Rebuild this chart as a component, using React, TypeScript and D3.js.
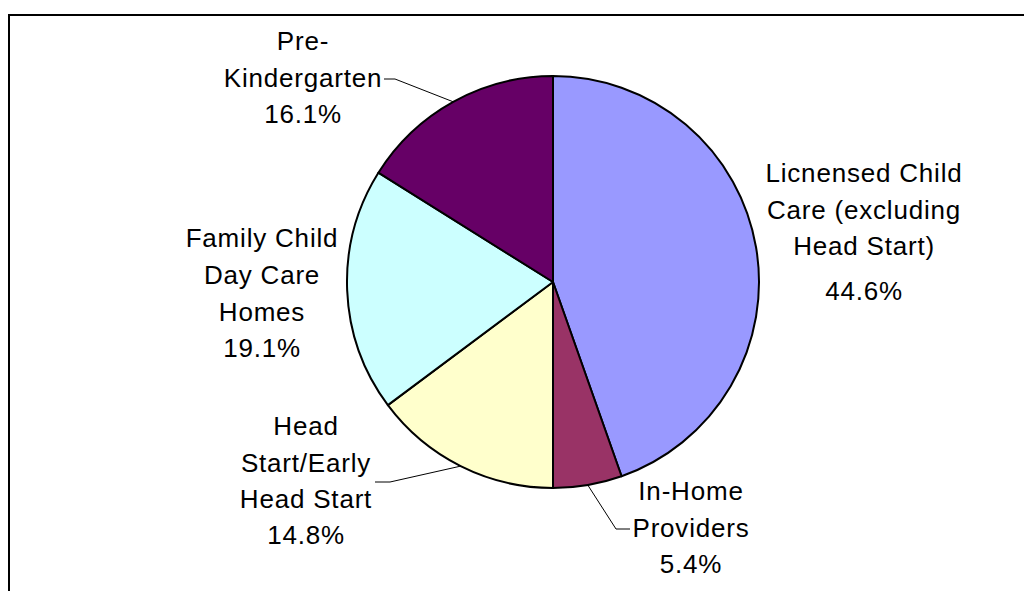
import React from "react";
import * as d3 from "d3";

const categories = [
  "Licnensed Child Care (excluding Head Start)",
  "In-Home Providers",
  "Head Start/Early Head Start",
  "Family Child Day Care Homes",
  "Pre-Kindergarten",
];
const values = [44.6, 5.4, 14.8, 19.1, 16.1];
const labelLines = [
  ["Licnensed Child", "Care (excluding", "Head Start)", "44.6%"],
  ["In-Home", "Providers", "5.4%"],
  ["Head", "Start/Early", "Head Start", "14.8%"],
  ["Family Child", "Day Care", "Homes", "19.1%"],
  ["Pre-", "Kindergarten", "16.1%"],
];
const colors = ["#9999FF", "#993366", "#FFFFCC", "#CCFFFF", "#660066"];

const W = 1024;
const H = 591;
const cx = 553;
const cy = 282;
const R = 206;

const labelLayout = [
  { x: 864, baselines: [182, 219, 255, 300] },
  { x: 691, baselines: [500, 537, 573] },
  { x: 306, baselines: [435, 472, 508, 544] },
  { x: 262, baselines: [247, 284, 321, 357] },
  { x: 303, baselines: [50, 87, 123] },
];
const leaders: Record<number, { end: [number, number]; elbow: [number, number] }> = {
  1: { end: [630, 529], elbow: [616, 529] },
  2: { end: [375, 482], elbow: [390, 482] },
  4: { end: [384, 79], elbow: [395, 79] },
};

export default function App() {
  const pie = d3
    .pie<number>()
    .sort(null)
    .value((d) => d)
    .startAngle(0)
    .endAngle(2 * Math.PI);
  const arcs = pie(values);
  const arc = d3.arc<d3.PieArcDatum<number>>().innerRadius(0).outerRadius(R);

  return (
    <svg
      width={W}
      height={H}
      style={{ position: "absolute", left: 0, top: 0, display: "block" }}
      fontFamily="'Liberation Sans', Arial, sans-serif"
    >
      <rect x={0} y={0} width={W} height={H} fill="#fff" />
      <path d={`M9,${H + 5} L9,15 L${W + 5},15`} fill="none" stroke="#000" strokeWidth={2} />
      <g transform={`translate(${cx},${cy})`}>
        {arcs.map((a, i) => (
          <path key={categories[i]} d={arc(a) || ""} fill={colors[i]} stroke="#000" strokeWidth={2} strokeLinejoin="round" />
        ))}
      </g>
      {arcs.map((a, i) => {
        const l = leaders[i];
        if (!l) return null;
        const mid = (a.startAngle + a.endAngle) / 2;
        const sx = cx + R * Math.sin(mid);
        const sy = cy - R * Math.cos(mid);
        return (
          <polyline
            key={"l" + i}
            points={`${sx},${sy} ${l.elbow[0]},${l.elbow[1]} ${l.end[0]},${l.end[1]}`}
            fill="none"
            stroke="#000"
            strokeWidth={1}
          />
        );
      })}
      {labelLines.map((lines, i) => (
        <text key={"t" + i} fontSize={26} letterSpacing={0.8} textAnchor="middle" fill="#000">
          {lines.map((ln, j) => (
            <tspan key={j} x={labelLayout[i].x} y={labelLayout[i].baselines[j]}>
              {ln}
            </tspan>
          ))}
        </text>
      ))}
    </svg>
  );
}
